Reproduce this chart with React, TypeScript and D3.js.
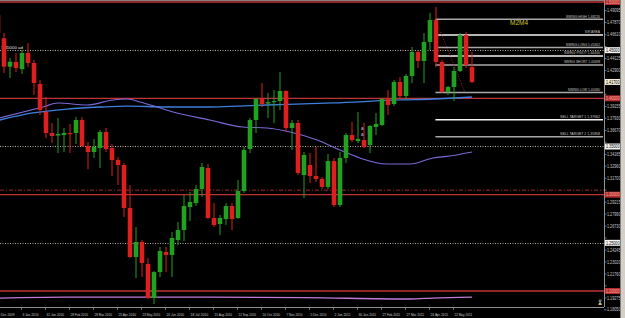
import React, { useEffect } from 'react';
import * as d3 from 'd3';

// ---------- DATA ----------
// weekly candles, first index = -1 (week of 6 Dec 2009)
const firstIndex = -1;
const opens = [1.4865,1.4623,1.4328,1.4377,1.4304,1.4471,1.4367,1.4149,1.3858,1.3640,1.3614,1.3619,1.3640,1.3640,1.3775,1.3505,1.3443,1.3484,1.3650,1.3484,1.3360,1.3308,1.2862,1.2353,1.2509,1.2280,1.1927,1.2197,1.2405,1.2374,1.2529,1.2633,1.2872,1.2913,1.3059,1.3277,1.2758,1.2695,1.2747,1.2882,1.2758,1.3038,1.3474,1.3775,1.3993,1.3946,1.3962,1.3972,1.4076,1.3692,1.3744,1.3204,1.3308,1.3194,1.3163,1.3080,1.3349,1.2893,1.3381,1.3619,1.3557,1.3567,1.3516,1.3702,1.3723,1.3993,1.3941,1.4170,1.4024,1.4232,1.4481,1.4388,1.4585,1.4813,1.4377,1.4066,1.4118,1.4284,1.4657,1.4325];
const highs = [1.4875,1.4678,1.4419,1.4471,1.4502,1.4574,1.4398,1.4190,1.4014,1.3744,1.3796,1.3692,1.3734,1.3806,1.3806,1.3547,1.3578,1.3671,1.3692,1.3526,1.3391,1.3329,1.3100,1.2664,1.2529,1.2342,1.2208,1.2457,1.2457,1.2612,1.2716,1.2997,1.3028,1.3100,1.3329,1.3318,1.2913,1.2789,1.2913,1.2913,1.3152,1.3495,1.3796,1.4003,1.4159,1.4055,1.4086,1.4273,1.4086,1.3775,1.3775,1.3443,1.3432,1.3495,1.3183,1.3422,1.3381,1.3443,1.3640,1.3754,1.3858,1.3744,1.3723,1.3848,1.4003,1.4086,1.4190,1.4221,1.4253,1.4533,1.4502,1.4678,1.4886,1.4948,1.4398,1.4128,1.4325,1.4678,1.4689,1.4481];
const lows = [1.4657,1.4263,1.4211,1.4273,1.4253,1.4325,1.4035,1.3827,1.3588,1.3536,1.3432,1.3443,1.3432,1.3526,1.3495,1.3266,1.3381,1.3277,1.3443,1.3194,1.3100,1.2768,1.2342,1.2135,1.2145,1.1917,1.1865,1.2145,1.2197,1.2145,1.2477,1.2519,1.2727,1.2882,1.2976,1.2747,1.2664,1.2581,1.2685,1.2633,1.2747,1.3017,1.3432,1.3640,1.3910,1.3796,1.3744,1.3879,1.3650,1.3464,1.3204,1.2965,1.3121,1.3131,1.3059,1.3059,1.2872,1.2872,1.3329,1.3547,1.3536,1.3484,1.3432,1.3619,1.3713,1.3827,1.3920,1.3983,1.3983,1.4159,1.4315,1.4159,1.4502,1.4325,1.4055,1.4035,1.3972,1.4273,1.4315,1.4159];
const closes = [1.4678,1.4328,1.4380,1.4315,1.4471,1.4367,1.4159,1.3879,1.3640,1.3609,1.3630,1.3640,1.3630,1.3775,1.3505,1.3443,1.3495,1.3650,1.3474,1.3360,1.3308,1.2862,1.2353,1.2509,1.2291,1.1927,1.2197,1.2415,1.2374,1.2550,1.2633,1.2882,1.2924,1.3059,1.3287,1.2758,1.2685,1.2758,1.2882,1.2747,1.3038,1.3464,1.3775,1.3993,1.3941,1.3962,1.3972,1.4076,1.3692,1.3744,1.3225,1.3412,1.3194,1.3163,1.3080,1.3349,1.2893,1.3381,1.3619,1.3567,1.3578,1.3495,1.3713,1.3734,1.3993,1.3931,1.4170,1.4024,1.4232,1.4481,1.4388,1.4585,1.4813,1.4377,1.4066,1.4118,1.4284,1.4657,1.4346,1.4170];

// moving averages (bar index, price)
const slowMaIdx = [-0.7, 4.8, 10.5, 16, 20.5, 27.2, 32.7, 43.8, 54.8, 66, 71.5, 78];
const slowMaVal = [1.3775, 1.3848, 1.3889, 1.3910, 1.3920, 1.3910, 1.3910, 1.3931, 1.3952, 1.3983, 1.3993, 1.4014];
const fastMaIdx = [-0.7, 6.5, 9, 13.8, 18.2, 20.5, 22.7, 25.5, 28.2, 34.3, 39.8, 43.8, 47.7, 52.2, 56, 59.3, 63.8, 67.7, 71.5, 74.3, 78];
const fastMaVal = [1.3796, 1.3910, 1.3951, 1.3931, 1.3983, 1.3993, 1.3962, 1.3910, 1.3858, 1.3775, 1.3702, 1.3692, 1.3650, 1.3567, 1.3464, 1.3381, 1.3318, 1.3318, 1.3381, 1.3401, 1.3443];
const lowMaIdx = [-0.7, 10, 34, 50, 67.7, 71.5, 78];
const lowMaVal = [1.1927, 1.1937, 1.1937, 1.1932, 1.1917, 1.1927, 1.1937];

// horizontal levels
const redLevels = [1.5, 1.4, 1.3, 1.2];
const redLevelLabels = ['1.50000', '1.40000', '1.30000', '1.20000'];
const dottedLevels = [1.45, 1.35, 1.25];
const dottedLevelLabels = ['1.45000', '1.35000', '1.25000'];
const dashDotLevel = 1.3047;
const currentPrice = 1.4170;
const currentPriceLabel = '1.41700';

// swing / fib levels
const fibStartIndex = 71.9;
const fibNames = ['SWING HIGH 1.48220', 'S/R AREA', 'SWING LONG 1.45302', 'SWING PIVOT 1.44400', 'SWING SHORT 1.43498', 'SWING LOW 1.40580', 'SELL TARGET 1 1.37662', 'SELL TARGET 2 1.35858'];
const fibPrices = [1.4822, 1.4658, 1.4527, 1.4440, 1.4347, 1.4060, 1.3777, 1.3601];
const fibWhite = [false, true, false, true, false, false, true, false];
const trendIdx = [72.3, 76.8];
const trendVal = [1.4761, 1.4066];

// axes
const priceTicks = [1.49095,1.47870,1.46610,1.45385,1.44125,1.42900,1.41640,1.40415,1.39155,1.37930,1.36670,1.35445,1.34185,1.32960,1.31700,1.30475,1.29215,1.27990,1.26730,1.25505,1.24245,1.23020,1.21760,1.20535,1.19275,1.18050];
const timeLabels = ['6 Dec 2009','3 Jan 2010','31 Jan 2010','28 Feb 2010','28 Mar 2010','25 Apr 2010','23 May 2010','20 Jun 2010','18 Jul 2010','15 Aug 2010','12 Sep 2010','10 Oct 2010','7 Nov 2010','5 Dec 2010','2 Jan 2011','30 Jan 2011','27 Feb 2011','27 Mar 2011','24 Apr 2011','22 May 2011'];
const timeLabelIdx = [-1,3,7,11,15,19,23,27,31,35,39,43,47,51,55,59,63,67,71,75];

const W = 625, H = 318;
const PLOT_R = 604, PLOT_B = 307;
const FONT = "'Liberation Sans', Arial, sans-serif";
const UP = '#22a022', DOWN = '#dc2020';

export default function App() {
  useEffect(() => {
    document.body.style.margin = '0';
    document.body.style.background = '#000';
  }, []);

  const x = d3.scaleLinear().domain([0, 1]).range([4, 10]);
  const y = d3.scaleLinear().domain([1.2, 1.5]).range([291, 2]);

  const candles = opens.map((o, k) => ({ i: k + firstIndex, o, h: highs[k], l: lows[k], c: closes[k] }));

  const line = (idx: number[], val: number[]) =>
    d3.line<number>().x((_, k) => x(idx[k])).y((v) => y(v)).curve(d3.curveMonotoneX)(val) || '';

  const fibX0 = x(fibStartIndex);
  const pt = { textLength: 13.5, lengthAdjust: 'spacingAndGlyphs' as const };
  const flagged = [...redLevels, ...dottedLevels, currentPrice].map((p) => y(p));
  const visibleTicks = priceTicks.filter((p) => flagged.every((fy) => Math.abs(fy - y(p)) > 5.5));

  return (
    <svg width={W} height={H} style={{ position: 'absolute', left: 0, top: 0, display: 'block', background: '#000' }} fontFamily={FONT}>
      <defs>
        <clipPath id="plot"><rect x={0} y={0} width={PLOT_R} height={PLOT_B} /></clipPath>
      </defs>
      <rect x={0} y={0} width={W} height={H} fill="#000" />
      <g clipPath="url(#plot)">
        {dottedLevels.map((p, k) => (
          <line key={'d' + k} x1={0} x2={PLOT_R} y1={Math.round(y(p)) + 0.5} y2={Math.round(y(p)) + 0.5} stroke="#b8b0a0" strokeWidth={1} strokeDasharray="1,1.5" />
        ))}
        <text x={1} y={y(1.45) - 1.5} fontSize={4} fill="#e0e0e0" textLength={22} lengthAdjust="spacingAndGlyphs">1.45000 ad</text>
        <line x1={0} x2={PLOT_R} y1={y(dashDotLevel)} y2={y(dashDotLevel)} stroke="#a02828" strokeWidth={1} strokeDasharray="4,2,1,2" />
        {redLevels.map((p, k) => (
          <line key={'r' + k} x1={0} x2={PLOT_R} y1={y(p)} y2={y(p)} stroke="#c03434" strokeWidth={1.3} />
        ))}
        {fibPrices.map((p, k) => (
          <g key={'f' + k}>
            <line x1={fibX0} x2={PLOT_R - 1} y1={y(p)} y2={y(p)} stroke={fibWhite[k] ? '#f4f4f4' : '#a8a8a8'} strokeWidth={1.5} />
            <text x={PLOT_R - 4} y={y(p) - 1.5} fontSize={4} fill="#c8c8c8" textAnchor="end"
              textLength={fibNames[k].length * 1.9} lengthAdjust="spacingAndGlyphs">{fibNames[k]}</text>
          </g>
        ))}
        <text x={519} y={24.5} fontSize={6.5} fill="#cfc62a" textAnchor="middle">M2M4</text>
        <path d={line(lowMaIdx, lowMaVal)} fill="none" stroke="#c27ad8" strokeWidth={1.3} />
        <path d={line(slowMaIdx, slowMaVal)} fill="none" stroke="#3f7fe0" strokeWidth={1.3} />
        <path d={line(fastMaIdx, fastMaVal)} fill="none" stroke="#7a6ad8" strokeWidth={1.1} />
        {candles.map((d) => {
          const col = d.c >= d.o ? UP : DOWN;
          const top = y(Math.max(d.o, d.c));
          const bot = y(Math.min(d.o, d.c));
          return (
            <g key={'c' + d.i}>
              <rect x={x(d.i) - 0.5} y={y(d.h)} width={1} height={Math.max(1, y(d.l) - y(d.h))} fill={col} />
              <rect x={x(d.i) - 2.3} y={top} width={4.6} height={Math.max(1.2, bot - top)} fill={col} />
            </g>
          );
        })}
        <line x1={x(trendIdx[0])} y1={y(trendVal[0])} x2={x(trendIdx[1])} y2={y(trendVal[1])} stroke="#a82020" strokeWidth={1} strokeDasharray="1,1.5" />
        <text x={361} y={130} fontSize={4.5} fill="#c0c8ff">a</text>
        <text x={361} y={136} fontSize={4.5} fill="#c0c8ff">a</text>
      </g>

      <line x1={0} x2={PLOT_R} y1={0.5} y2={0.5} stroke="#808080" strokeWidth={1} />
      <line x1={PLOT_R + 0.5} x2={PLOT_R + 0.5} y1={0} y2={PLOT_B} stroke="#909090" strokeWidth={1} />
      <line x1={0} x2={PLOT_R} y1={PLOT_B + 0.5} y2={PLOT_B + 0.5} stroke="#909090" strokeWidth={1} />

      {priceTicks.map((p, k) => (
        <line key={'ptl' + k} x1={PLOT_R} x2={PLOT_R + 2.5} y1={y(p)} y2={y(p)} stroke="#909090" strokeWidth={0.8} />
      ))}
      {visibleTicks.map((p, k) => (
        <text key={'pt' + k} x={PLOT_R + 3} y={y(p) + 1.6} fontSize={4.6} fill="#c8c8c8" {...pt}>{p.toFixed(5)}</text>
      ))}
      {dottedLevels.map((p, k) => (
        <g key={'dl' + k}>
          <rect x={PLOT_R + 1} y={y(p) - 3} width={16} height={6} fill="#f4f4f4" />
          <text x={PLOT_R + 2} y={y(p) + 1.7} fontSize={4.6} fill="#000" {...pt}>{dottedLevelLabels[k]}</text>
        </g>
      ))}
      {redLevels.map((p, k) => (
        <g key={'rl' + k}>
          <rect x={PLOT_R + 1} y={y(p) - 3} width={16} height={6} fill="#b82c2c" />
          <text x={PLOT_R + 2} y={y(p) + 1.7} fontSize={4.6} fill="#f0b0a8" {...pt}>{redLevelLabels[k]}</text>
        </g>
      ))}
      <rect x={PLOT_R + 1} y={y(currentPrice) - 3} width={16} height={6} fill="#f2ead6" />
      <text x={PLOT_R + 2} y={y(currentPrice) + 1.7} fontSize={4.6} fill="#000" {...pt}>{currentPriceLabel}</text>
      <text x={597} y={304} fontSize={5} fill="#a0a0a0">⌛</text>

      {timeLabels.map((t, k) => (
        <g key={'tl' + k}>
          <line x1={x(timeLabelIdx[k]) - 0.5} x2={x(timeLabelIdx[k]) - 0.5} y1={PLOT_B} y2={PLOT_B + 3} stroke="#909090" strokeWidth={0.8} />
          <text x={x(timeLabelIdx[k]) + 0.5} y={316} fontSize={4.1} fill="#c8c8c8"
            textLength={t.length * 1.6} lengthAdjust="spacingAndGlyphs">{t}</text>
        </g>
      ))}

      <rect x={621} y={0} width={4} height={H} fill="#d4d0c8" />
      <line x1={620.5} x2={620.5} y1={0} y2={H} stroke="#808080" strokeWidth={1} />
    </svg>
  );
}
